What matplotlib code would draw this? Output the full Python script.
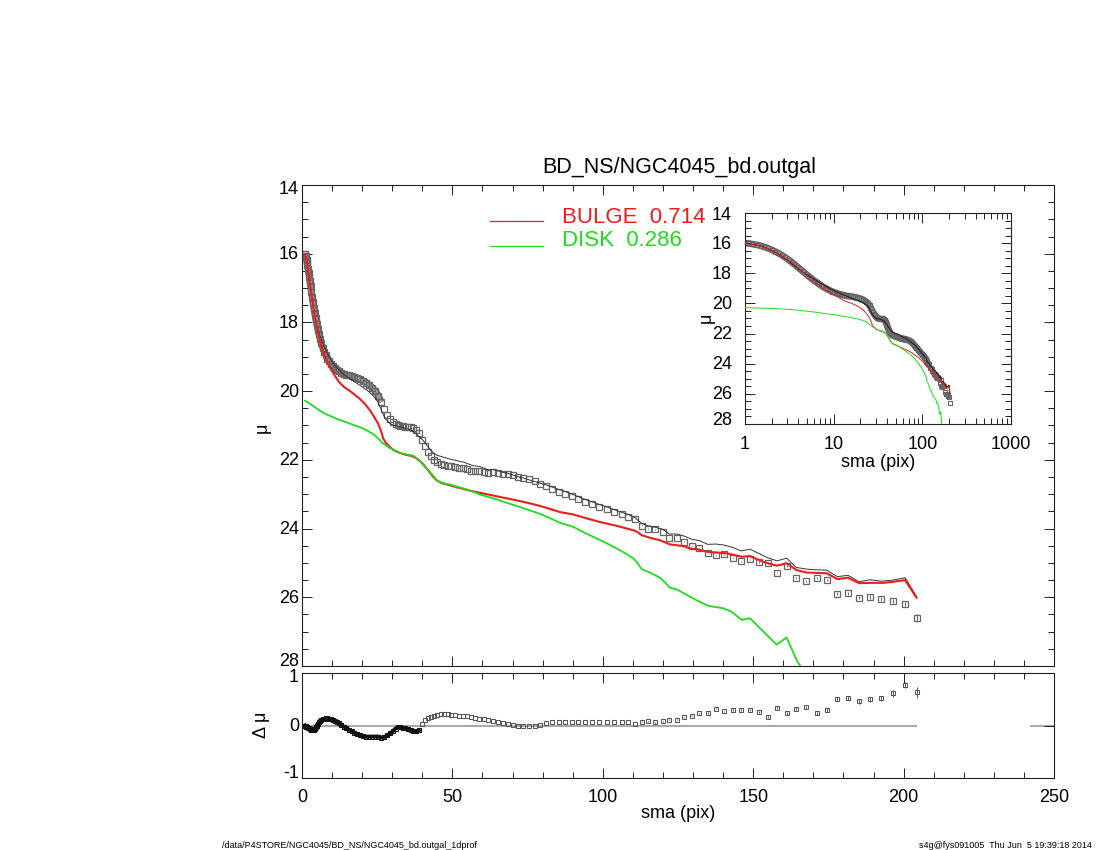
import matplotlib
matplotlib.use('Agg')
import matplotlib.pyplot as plt
import numpy as np
from matplotlib.ticker import MultipleLocator, FixedLocator, NullFormatter, LogLocator, FixedFormatter, NullLocator
from matplotlib.lines import Line2D
from matplotlib.transforms import ScaledTranslation

plt.rcParams['font.family'] = ['Liberation Sans', 'DejaVu Sans']
plt.rcParams['axes.unicode_minus'] = False

# ---------------- data ----------------
TITLE = 'BD_NS/NGC4045_bd.outgal'
LEGEND_LABELS = ['BULGE  0.714', 'DISK  0.286']
FOOT_LEFT = '/data/P4STORE/NGC4045/BD_NS/NGC4045_bd.outgal_1dprof'
FOOT_RIGHT = 's4g@fys091005  Thu Jun  5 19:39:18 2014'

sma = [
    1.0, 1.1, 1.2, 1.35, 1.5, 1.65, 1.8, 2.0, 2.2, 2.4,
    2.6, 2.85, 3.1, 3.35, 3.6, 3.9, 4.2, 4.5, 4.85, 5.2,
    5.6, 6.0, 6.45, 6.9, 7.4, 7.9, 8.45, 9.0, 9.6, 10.2,
    10.9, 11.6, 12.3, 13.1, 13.9, 14.7, 15.6, 16.5, 17.4, 18.4,
    19.4, 20.4, 21.4, 22.4, 23.4, 24.4, 25.4, 26.4, 27.4, 28.4,
    29.4,
    30.3, 31.1, 31.9, 32.7, 33.5, 34.3, 35.2, 36.1, 37.0, 37.9,
    38.8, 39.8, 40.8, 41.8, 42.8, 43.9, 45.0, 46.1, 47.3, 48.5,
    49.7, 50.9, 52.2, 53.5, 54.8, 56.2, 57.6, 59.0, 60.5, 62.0,
    63.5, 65.1, 66.7, 68.4, 70.1, 71.8, 73.6, 75.4, 77.3, 79.2,
    81.2, 83.2, 85.3, 87.4, 89.6, 91.8, 94.1, 96.4, 98.8, 101.3,
    103.8, 106.4, 108.5, 110.7,
    112.9, 115.1, 117.4, 119.9, 122.1, 124.6, 127.1, 129.5, 132.1, 134.9,
    137.6, 140.3, 143.2, 145.9, 148.9, 151.8, 154.8, 157.9, 161.1, 164.3,
    167.7, 171.1, 174.4, 178.0, 181.5, 185.2, 188.8, 192.6, 196.5, 200.5,
    204.3,
]
mu_data = [
    16.00, 16.02, 16.06, 16.11, 16.17, 16.25, 16.33, 16.44, 16.56, 16.68,
    16.80, 16.95, 17.10, 17.25, 17.40, 17.57, 17.73, 17.88, 18.04, 18.19,
    18.34, 18.48, 18.61, 18.73, 18.85, 18.95, 19.05, 19.13, 19.21, 19.27,
    19.33, 19.38, 19.42, 19.46, 19.49, 19.52, 19.54, 19.56, 19.59, 19.62,
    19.66, 19.70, 19.75, 19.82, 19.90, 20.00, 20.13, 20.32, 20.53, 20.68,
    20.80,
    20.89, 20.95, 20.99, 21.01, 21.02, 21.03, 21.03, 21.04, 21.06, 21.12,
    21.23, 21.42, 21.60, 21.76, 21.89, 22.00, 22.07, 22.11, 22.14, 22.17,
    22.19, 22.21, 22.23, 22.25, 22.28, 22.31, 22.33, 22.32, 22.36, 22.39,
    22.36, 22.38, 22.40, 22.42, 22.45, 22.49, 22.52, 22.57, 22.62, 22.69,
    22.77, 22.85, 22.93, 22.99, 23.06, 23.14, 23.22, 23.29, 23.37, 23.44,
    23.51, 23.59, 23.65, 23.71,
    23.92, 24.00, 24.02, 24.10, 24.27, 24.27, 24.38, 24.50, 24.58, 24.70,
    24.77, 24.75, 24.85, 24.95, 24.90, 24.97, 25.01, 25.28, 25.09, 25.45,
    25.53, 25.43, 25.50, 25.90, 25.88, 26.01, 25.99, 26.05, 26.11, 26.20,
    26.61,
]
# residual (data - model)
dmu = [
    0.00, -0.01, -0.01, -0.02, -0.02, -0.03, -0.03, -0.04, -0.05, -0.05,
    -0.06, -0.07, -0.08, -0.09, -0.09, -0.08, -0.06, -0.03, 0.00, 0.03,
    0.06, 0.08, 0.10, 0.12, 0.13, 0.14, 0.14, 0.13, 0.12, 0.10,
    0.08, 0.06, 0.04, 0.01, -0.02, -0.05, -0.08, -0.11, -0.14, -0.16,
    -0.18, -0.20, -0.21, -0.21, -0.21, -0.21, -0.21, -0.23, -0.22, -0.19,
    -0.15,
    -0.10, -0.06, -0.03, -0.03, -0.04, -0.05, -0.07, -0.09, -0.11, -0.11,
    -0.09, 0.03, 0.11, 0.15, 0.17, 0.19, 0.20, 0.21, 0.21, 0.21,
    0.20, 0.20, 0.19, 0.19, 0.18, 0.16, 0.15, 0.13, 0.12, 0.10,
    0.08, 0.06, 0.04, 0.03, 0.01, 0.00, -0.01, -0.01, -0.01, 0.01,
    0.04, 0.06, 0.07, 0.07, 0.07, 0.07, 0.07, 0.07, 0.07, 0.07,
    0.06, 0.06, 0.06, 0.03,
    0.07, 0.08, 0.06, 0.08, 0.11, 0.11, 0.16, 0.19, 0.23, 0.24,
    0.32, 0.27, 0.30, 0.30, 0.30, 0.25, 0.16, 0.34, 0.23, 0.32,
    0.35, 0.23, 0.29, 0.50, 0.52, 0.46, 0.50, 0.52, 0.61, 0.77,
    0.63,
]
# error bars of the outermost isophotes (the rest are negligible)
outer_err = [
    0.01, 0.01, 0.01, 0.01, 0.01, 0.01, 0.01, 0.01, 0.015, 0.015,
    0.015, 0.015, 0.02, 0.02, 0.02, 0.02, 0.02, 0.025, 0.025, 0.03,
    0.03, 0.03, 0.035, 0.04, 0.04, 0.045, 0.05, 0.05, 0.06, 0.06,
    0.11,
]

bulge_sma = [1.0, 1.5, 2.0, 2.6, 3.2, 3.9, 4.5, 5.2, 6.0, 7.0, 8.0, 9.0, 10.0, 11.0, 12.6,
             14.0, 16.0, 17.5, 19.3, 21.0, 22.6, 24.0, 25.4, 26.0, 26.5, 27.0, 28.0, 29.3,
             30.5, 32.0, 33.3, 34.8, 36.2, 37.6, 39.2, 40.5, 42.0, 43.5, 44.8, 46.5, 49.2,
             52.0, 54.7, 57.0, 59.2, 62.0, 64.7, 68.0, 71.4, 75.0, 79.1, 82.5, 85.8, 90.2,
             94.5, 99.1, 104.6, 110.2, 111.5, 112.9, 115.7, 119.0, 122.3, 126.8, 129.0,
             131.7, 135.1, 141.2, 146.2, 148.9, 153.4, 157.8, 161.1, 164.5, 167.8, 171.1,
             174.4, 178.0, 181.5, 185.2, 188.8, 193.3, 196.5, 200.5, 204.3]
bulge_mu = [16.02, 16.18, 16.47, 16.85, 17.19, 17.60, 17.93, 18.25, 18.55, 18.84, 19.07,
            19.26, 19.42, 19.56, 19.76, 19.88, 20.00, 20.10, 20.23, 20.38, 20.56, 20.75,
            20.96, 21.10, 21.22, 21.38, 21.52, 21.63, 21.72, 21.78, 21.82, 21.86, 21.88,
            21.93, 22.03, 22.15, 22.31, 22.48, 22.60, 22.68, 22.74, 22.81, 22.87, 22.92,
            22.96, 23.01, 23.06, 23.12, 23.18, 23.25, 23.34, 23.43, 23.52, 23.59, 23.70,
            23.81, 23.92, 24.05, 24.10, 24.19, 24.27, 24.34, 24.46, 24.51, 24.58, 24.61,
            24.68, 24.72, 24.82, 24.80, 24.97, 25.08, 25.01, 25.21, 25.28, 25.29, 25.30,
            25.47, 25.43, 25.59, 25.58, 25.58, 25.55, 25.50, 26.01]

disk_sma = [1.0, 2.0, 3.0, 4.0, 6.0, 8.0, 10.4, 12.5, 14.9, 17.0, 19.3, 21.5, 23.7, 25.0,
            26.5, 28.0, 29.3, 31.0, 32.6, 35.0, 37.0, 38.1, 39.2, 40.9, 42.0, 43.5, 44.8,
            47.0, 49.2, 52.0, 54.7, 57.0, 59.2, 62.0, 64.7, 68.0, 71.4, 75.0, 79.1, 82.5,
            85.8, 90.2, 93.5, 96.8, 100.7, 104.6, 107.5, 110.2, 111.5, 112.9, 115.7, 119.0,
            120.5, 122.3, 124.6, 127.9, 131.7, 135.1, 140.1, 142.8, 146.2, 148.9, 153.4,
            157.8, 161.1, 164.5, 167.8]
disk_mu = [20.28, 20.33, 20.39, 20.45, 20.57, 20.67, 20.76, 20.84, 20.91, 20.98, 21.05,
           21.14, 21.25, 21.35, 21.49, 21.58, 21.66, 21.73, 21.80, 21.85, 21.88, 21.95,
           22.02, 22.21, 22.30, 22.45, 22.60, 22.68, 22.72, 22.79, 22.86, 22.93, 23.01,
           23.08, 23.15, 23.25, 23.34, 23.45, 23.57, 23.70, 23.83, 23.95, 24.10, 24.24,
           24.40, 24.58, 24.72, 24.87, 25.00, 25.18, 25.28, 25.43, 25.55, 25.72, 25.77,
           25.93, 26.11, 26.25, 26.32, 26.42, 26.66, 26.61, 27.00, 27.38, 27.17, 27.84,
           28.30]

zero_segments = [(0.0, 204.3), (242.0, 250.0)]

main_yticks = [14, 16, 18, 20, 22, 24, 26, 28]
main_ylabels = ['14', '16', '18', '20', '22', '24', '26', '28']
res_yticks = [-1, 0, 1]
res_ylabels = ['-1', '0', '1']
x_ticks = [0, 50, 100, 150, 200, 250]
inset_xticks = [1, 10, 100, 1000]
inset_xticklabels = ['1', '10', '100', '1000']

# where overlapping isophote markers merge into a continuous band
BAND_MAX_MAIN = 27.0
BAND_MAX_INSET = 120.0
BAND_MAX_RES = 39.0

# ---------------- derived ----------------
sma_a = np.array(sma)
mu_a = np.array(mu_data)
dmu_a = np.array(dmu)
mu_model = mu_a - dmu_a
err_a = np.concatenate([np.zeros(len(sma) - len(outer_err)), np.array(outer_err)])

RED = '#ee1c1c'
GREEN = '#1ddc1d'
SQ = '#666666'
FS = 13

W, H = 1100, 850
fig = plt.figure(figsize=(W / 100, H / 100), dpi=100)


def fx(px):
    return px / W


def fy(py):
    return 1 - py / H


ax = fig.add_axes([fx(302), fy(666), fx(1054) - fx(302), fy(185) - fy(666)])
axr = fig.add_axes([fx(302), fy(778), fx(1054) - fx(302), fy(673) - fy(778)])
axi = fig.add_axes([fx(745), fy(424), fx(1011) - fx(745), fy(213) - fy(424)])


def style(a):
    for s in a.spines.values():
        s.set_color('#222222')
        s.set_linewidth(0.8)
    a.tick_params(which='both', direction='in', top=True, right=True,
                  colors='#222222', labelcolor='black', labelsize=FS, width=0.7)
    a.tick_params(which='major', length=7, pad=6)
    a.tick_params(which='minor', length=4)


def ylabels(a, values, texts, dx_px, end_shift_px):
    """Y tick labels drawn IDL-style: end labels pulled inside the axis range."""
    a.yaxis.set_major_formatter(NullFormatter())
    lo, hi = min(values), max(values)
    inverted = a.yaxis_inverted()
    for v, t in zip(values, texts):
        dy = -1.0
        if v == lo:
            dy = -end_shift_px if inverted else end_shift_px
        elif v == hi:
            dy = end_shift_px if inverted else -end_shift_px
        tr = a.get_yaxis_transform() + ScaledTranslation(dx_px / 100, dy / 100, fig.dpi_scale_trans)
        a.text(0, v, t, transform=tr, ha='right', va='center', fontsize=FS, clip_on=False)


def band(a, x, y, sel):
    a.plot(x[sel], y[sel], color='#5c5c5c', lw=4.8, solid_capstyle='butt', zorder=1.5)
    a.plot(x[sel], y[sel], color='#9c9c9c', lw=3.0, solid_capstyle='butt', zorder=1.6)


# ---- main panel ----
style(ax)
band(ax, sma_a, mu_a, sma_a <= BAND_MAX_MAIN)
ax.plot(sma_a, mu_a, ls='none', marker='s', ms=3.7, mfc='none', mec=SQ, mew=0.9, zorder=2)
ax.errorbar(sma_a, mu_a, yerr=err_a, fmt='none', ecolor=SQ, elinewidth=0.7, zorder=2)
ax.plot(sma_a, mu_model, color='#333333', lw=0.7, zorder=3)
ax.plot(bulge_sma, bulge_mu, color=RED, lw=1.5, zorder=4)
ax.plot(disk_sma, disk_mu, color=GREEN, lw=1.3, zorder=4)
ax.set_xlim(0, 250)
ax.set_ylim(28, 14)
ax.xaxis.set_major_locator(FixedLocator(x_ticks))
ax.xaxis.set_minor_locator(MultipleLocator(10))
ax.xaxis.set_major_formatter(NullFormatter())
ax.yaxis.set_major_locator(FixedLocator(main_yticks))
ax.yaxis.set_minor_locator(MultipleLocator(0.5))
ylabels(ax, main_yticks, main_ylabels, -3, 4)

# ---- residual panel ----
style(axr)
for x0, x1 in zero_segments:
    axr.hlines(0, x0, x1, color='#aaaaaa', lw=1.5, zorder=1)
sel_r = sma_a <= BAND_MAX_RES
axr.plot(sma_a[sel_r], dmu_a[sel_r], color='#111111', lw=2.8, zorder=2.5)
axr.plot(sma_a[sel_r], dmu_a[sel_r], ls='none', marker='s', ms=2.9, mfc='none', mec='#111111',
         mew=0.75, zorder=3)
axr.plot(sma_a[~sel_r], dmu_a[~sel_r], ls='none', marker='s', ms=2.9, mfc='none', mec='#555555',
         mew=0.75, zorder=3)
axr.errorbar(sma_a, dmu_a, yerr=err_a, fmt='none', ecolor='#555555', elinewidth=0.7, zorder=3)
axr.set_xlim(0, 250)
axr.set_ylim(-1, 1)
axr.xaxis.set_major_locator(FixedLocator(x_ticks))
axr.xaxis.set_minor_locator(MultipleLocator(10))
axr.yaxis.set_major_locator(FixedLocator(res_yticks))
axr.yaxis.set_minor_locator(NullLocator())
axr.tick_params(axis='x', which='major', pad=8)
ylabels(axr, res_yticks, res_ylabels, -3, 4)

# ---- inset ----
style(axi)
axi.set_xscale('log')
band(axi, sma_a, mu_a, sma_a <= BAND_MAX_INSET)
axi.plot(sma_a, mu_a, ls='none', marker='s', ms=3.4, mfc='none', mec=SQ, mew=0.8, zorder=2)
axi.plot(sma_a, mu_model, color='#222222', lw=0.8, zorder=3)
axi.plot(bulge_sma, bulge_mu, color=RED, lw=0.7, zorder=4)
axi.plot(disk_sma, disk_mu, color=GREEN, lw=0.7, zorder=4)
axi.set_xlim(1, 1000)
axi.set_ylim(28, 14)
axi.xaxis.set_major_locator(FixedLocator(inset_xticks))
axi.xaxis.set_major_formatter(FixedFormatter(inset_xticklabels))
axi.xaxis.set_minor_locator(LogLocator(base=10, subs=np.arange(2, 10)))
axi.xaxis.set_minor_formatter(NullFormatter())
axi.yaxis.set_major_locator(FixedLocator(main_yticks))
axi.yaxis.set_minor_locator(MultipleLocator(0.5))
axi.tick_params(axis='x', which='major', pad=9)
ylabels(axi, main_yticks, main_ylabels, -13, 3)

# ---- texts ----
fig.text(fx(679), fy(168), TITLE, ha='center', va='center', fontsize=15.5)
fig.add_artist(Line2D([fx(490), fx(543)], [fy(221.5), fy(221.5)], color=RED, lw=0.9))
fig.add_artist(Line2D([fx(490), fx(543)], [fy(245.5), fy(245.5)], color=GREEN, lw=0.9))
fig.text(fx(562), fy(217), LEGEND_LABELS[0], color=RED, ha='left', va='center', fontsize=16)
fig.text(fx(562), fy(241), LEGEND_LABELS[1], color=GREEN, ha='left', va='center', fontsize=16)

fig.text(fx(262), fy(428), 'μ', rotation=90, ha='center', va='center', fontsize=FS)
fig.text(fx(262), fy(725), 'Δ μ', rotation=90, ha='center', va='center', fontsize=FS)
fig.text(fx(678), fy(814), 'sma (pix)', ha='center', va='center', fontsize=FS)
fig.text(fx(706), fy(318), 'μ', rotation=90, ha='center', va='center', fontsize=FS)
fig.text(fx(878), fy(462), 'sma (pix)', ha='center', va='center', fontsize=FS)

fig.text(fx(222), fy(846), FOOT_LEFT, ha='left', va='center', fontsize=6.5,
         family=['Liberation Sans Narrow', 'Liberation Sans', 'DejaVu Sans'])
fig.text(fx(1092), fy(846), FOOT_RIGHT, ha='right', va='center', fontsize=6.5,
         family=['Liberation Sans Narrow', 'Liberation Sans', 'DejaVu Sans'])

fig.savefig('out.png', dpi=100, facecolor='white')
